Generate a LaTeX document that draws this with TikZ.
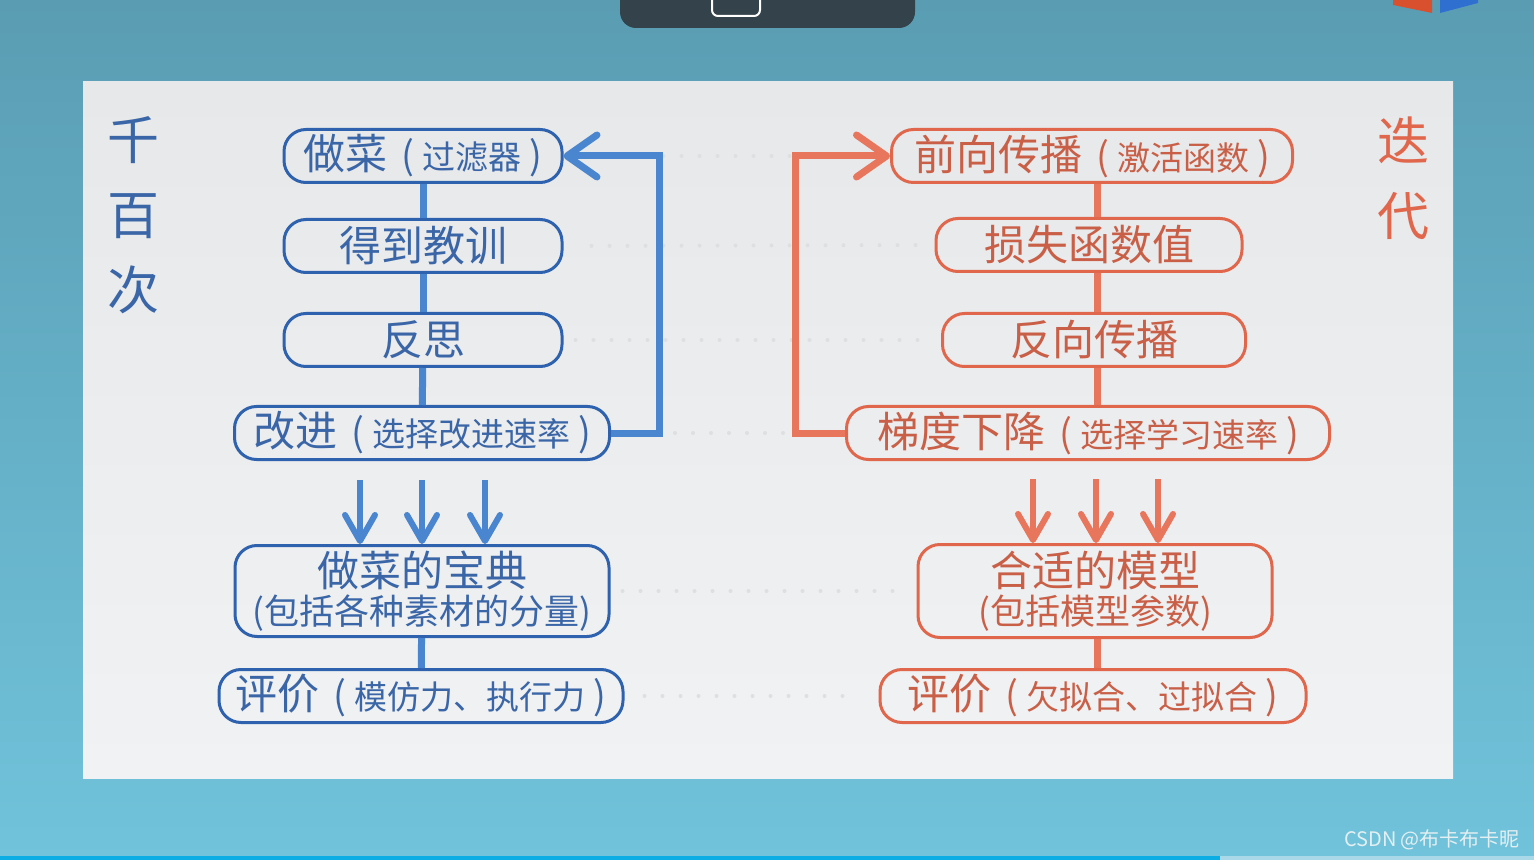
\documentclass[tikz,border=0pt]{standalone}
\usepackage{fontspec}
\newfontfamily\cjk{Noto Sans CJK SC}
\usetikzlibrary{arrows.meta,calc,positioning}

\definecolor{bgtop}{HTML}{5A9DB3}
\definecolor{bgbot}{HTML}{70C3DB}
\definecolor{paneltop}{HTML}{E7E8E9}
\definecolor{panelbot}{HTML}{F1F2F3}
\definecolor{bline}{HTML}{2F62AE}
\definecolor{btext}{HTML}{3A66A8}
\definecolor{barr}{HTML}{4A86CF}
\definecolor{rline}{HTML}{E0664C}
\definecolor{rtext}{HTML}{C95F47}
\definecolor{rarr}{HTML}{E8765C}
\definecolor{topbar}{HTML}{33424B}
\definecolor{dotgray}{HTML}{DDDFE1}
\definecolor{progress}{HTML}{0BADE5}
\definecolor{progrest}{HTML}{A9D9E8}
\definecolor{logored}{HTML}{D9502F}
\definecolor{logoblue}{HTML}{2F6FD0}
\definecolor{wmark}{HTML}{E4EFF2}

% smaller text in brackets after a label
\newcommand{\subtxt}[1]{{\hspace{7pt}{\fontsize{19}{19}\selectfont(}%
	\hspace{4pt}{\fontsize{16.5}{16.5}\selectfont #1}\hspace{4pt}%
	{\fontsize{19}{19}\selectfont)}}}

\begin{document}
\begin{tikzpicture}[
		x=0.5pt, y=-0.5pt,
		every node/.style = {
			font=\cjk\fontsize{21}{24}\selectfont,
			inner sep=0pt, align=center},
		bbox/.style = {
			draw=bline, line width=1.5pt, rounded corners=11pt,
			text=btext, minimum height=26.5pt},
		rbox/.style = {
			draw=rline, line width=1.5pt, rounded corners=11pt,
			text=rtext, minimum height=26.5pt},
		bconn/.style = {barr, line width=3.5pt},
		rconn/.style = {rarr, line width=3.5pt},
		bfeed/.style = {barr, line width=3.5pt,
			-{Straight Barb[length=15pt, width=21pt, round]}},
		rfeed/.style = {rarr, line width=3.5pt,
			-{Straight Barb[length=15pt, width=21pt, round]}},
		bdown/.style = {barr, line width=3pt,
			-{Straight Barb[length=13pt, width=15pt, round]}},
		rdown/.style = {rarr, line width=3pt,
			-{Straight Barb[length=13pt, width=15pt, round]}},
		faint/.style = {dotgray, line width=2pt, line cap=round,
			dash pattern=on 0pt off 9pt},
		title/.style = {font=\cjk\fontsize{26}{37.5}\selectfont}]

	\useasboundingbox (0,0) rectangle (1534,860);
	\shade[top color=bgtop, bottom color=bgbot] (0,0) rectangle (1534,860);
	\shade[top color=paneltop, bottom color=panelbot] (83,82) rectangle (1453,778);

	% top bar and logo
	\fill[topbar, rounded corners=8pt] (620,-20) rectangle (915,28);
	\draw[white, line width=1pt, rounded corners=3pt] (712,-10) rectangle (760,16);
	\fill[logored] (1393,0) -- (1432,0) -- (1432,13) -- (1393,5) -- cycle;
	\fill[logoblue] (1440,0) -- (1478,0) -- (1478,3) -- (1440,13) -- cycle;
	\fill[progress] (0,856) rectangle (1220,860);
	\fill[progrest] (1220,856) rectangle (1534,860);

	% left column
	\node[title, text=btext] (qianbai) at (133,215) {千\\百\\次};
	\node[bbox, minimum width=139pt] (zuocai) at (423,156) {做菜\subtxt{过滤器}};
	\node[bbox, minimum width=139pt] (dedao) at (423,246) {得到教训};
	\node[bbox, minimum width=139pt] (fansi) at (423,340) {反思};
	\node[bbox, minimum width=187.5pt] (gaijin) at (422,433) {改进\subtxt{选择改进速率}};
	\node[bbox, minimum width=187pt, minimum height=45.5pt,
		font=\cjk\fontsize{21}{19}\selectfont] (baodian) at (422,591)
		{做菜的宝典\\{\fontsize{17.5}{19}\selectfont (包括各种素材的分量)}};
	\node[bbox, minimum width=202pt] (pingjia) at (421,696) {评价\subtxt{模仿力、执行力}};

	% right column
	\coordinate (rcol) at (1097,0);
	\node[title, text=rline] (diedai) at (1403,178) {迭\\代};
	\node[rbox, minimum width=200.5pt] (qianxiang) at (1092,156) {前向传播\subtxt{激活函数}};
	\node[rbox, minimum width=153pt] (sunshi) at (1089,245) {损失函数值};
	\node[rbox, minimum width=151.5pt] (fanxiang) at (1094,340) {反向传播};
	\node[rbox, minimum width=241.5pt] (tidu) at (1088,433) {梯度下降\subtxt{选择学习速率}};
	\node[rbox, minimum width=177pt, minimum height=46.5pt,
		font=\cjk\fontsize{21}{19}\selectfont] (moxing) at (1095,591)
		{合适的模型\\{\fontsize{17.5}{19}\selectfont (包括模型参数)}};
	\node[rbox, minimum width=213pt] (rpingjia) at (1093,696) {评价\subtxt{欠拟合、过拟合}};

	% faint dotted rows
	\draw[faint, shorten <=14pt, shorten >=14pt] (zuocai.east) -- (qianxiang.west);
	\draw[faint, shorten <=14pt, shorten >=6pt] (dedao.east) -- (sunshi.west);
	\draw[faint, shorten <=6pt, shorten >=6pt] (fansi.east) -- (fanxiang.west);
	\draw[faint, shorten <=14pt, shorten >=14pt] (gaijin.east) -- (tidu.west);
	\draw[faint, shorten <=6pt, shorten >=6pt] (baodian.east) -- (moxing.west);
	\draw[faint, shorten <=10pt, shorten >=10pt] (pingjia.east) -- (rpingjia.west);

	% left connectors
	\draw[bconn] (zuocai) -- (dedao);
	\draw[bconn] (dedao) -- (fansi);
	\draw[bconn] (fansi) -- (gaijin);
	\draw[bconn] (baodian) -- (pingjia);
	\draw[bfeed] (gaijin.east) -- ++(48,0) |- (zuocai.east);
	\foreach \dx in {-62,0,63}
		\draw[bdown] ($(baodian.north)+(\dx,-64)$) -- ($(baodian.north)+(\dx,0)$);

	% right connectors
	\draw[rconn] (qianxiang.south -| rcol) -- (sunshi.north -| rcol);
	\draw[rconn] (sunshi.south -| rcol) -- (fanxiang.north -| rcol);
	\draw[rconn] (fanxiang.south -| rcol) -- (tidu.north -| rcol);
	\draw[rconn] (moxing.south -| rcol) -- (rpingjia.north -| rcol);
	\draw[rfeed] (tidu.west) -- ++(-50,0) |- (qianxiang.west);
	\foreach \dx in {-62,1,63}
		\draw[rdown] ($(moxing.north)+(\dx,-64)$) -- ($(moxing.north)+(\dx,0)$);

	% watermark
	\node[font=\cjk\fontsize{10}{12}\selectfont, text=wmark] (wm) at (1432,840) {CSDN @布卡布卡昵};
\end{tikzpicture}
\end{document}
